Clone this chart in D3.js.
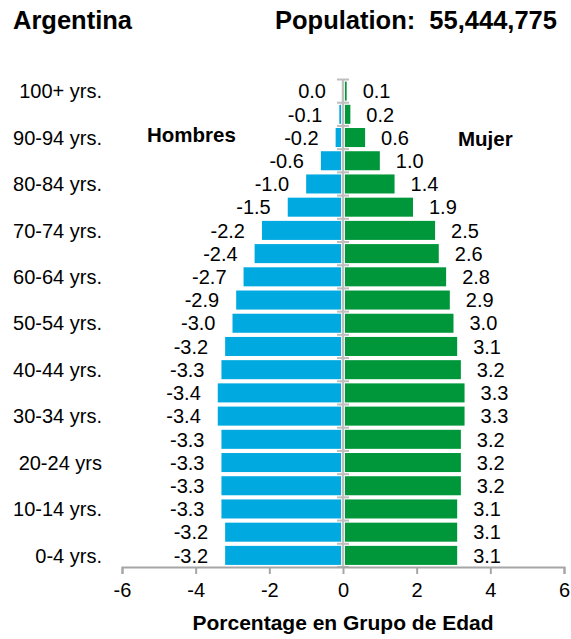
<!DOCTYPE html>
<html>
<head>
<meta charset="utf-8">
<script src="https://cdn.jsdelivr.net/npm/d3@7"></script>
<style>
  html, body { margin: 0; padding: 0; background: #fff; }
  svg { display: block; font-family: "Liberation Sans", Arial, sans-serif; }
</style>
</head>
<body>
<svg id="chart" width="571" height="639"></svg>
<script>
// Age groups, bottom to top
const ageGroups = ["0-4","5-9","10-14","15-19","20-24","25-29","30-34","35-39","40-44","45-49",
  "50-54","55-59","60-64","65-69","70-74","75-79","80-84","85-89","90-94","95-99","100+"];
// Tick labels shown on the y axis (every other group)
const yTickLabels = {
  "0-4": "0-4 yrs.", "10-14": "10-14 yrs.", "20-24": "20-24 yrs", "30-34": "30-34 yrs.",
  "40-44": "40-44 yrs.", "50-54": "50-54 yrs.", "60-64": "60-64 yrs.", "70-74": "70-74 yrs.",
  "80-84": "80-84 yrs.", "90-94": "90-94 yrs.", "100+": "100+ yrs."
};
const male = [-3.2,-3.2,-3.3,-3.3,-3.3,-3.3,-3.4,-3.4,-3.3,-3.2,-3.0,-2.9,-2.7,-2.4,-2.2,-1.5,-1.0,-0.6,-0.2,-0.1,0.0];
const female = [3.1,3.1,3.1,3.2,3.2,3.2,3.3,3.3,3.2,3.1,3.0,2.9,2.8,2.6,2.5,1.9,1.4,1.0,0.6,0.2,0.1];
const xTicks = [-6,-4,-2,0,2,4,6];

const svg = d3.select("#chart");
const blue = "#00a9e0", green = "#00973a";

const x = d3.scaleLinear().domain([-6, 6]).range([122, 564]);
const y = d3.scaleBand().domain(ageGroups).range([567, 79.5]).paddingInner(0.18).paddingOuter(0.09);
const yStep = d3.scaleBand().domain(ageGroups).range([567, 79.5]);

// Titles
svg.append("text").attr("x", 13).attr("y", 29).attr("font-size", 25.5).attr("font-weight", "bold")
  .text("Argentina");
svg.append("text").attr("x", 557).attr("y", 29).attr("font-size", 25.5).attr("font-weight", "bold")
  .attr("text-anchor", "end").attr("xml:space", "preserve").style("white-space", "pre")
  .text("Population:  55,444,775");

// Bars
const x0 = x(0);
svg.append("g").selectAll("rect").data(ageGroups).join("rect")
  .attr("x", (d, i) => x(male[i]))
  .attr("width", (d, i) => Math.max(0, x0 - 2 - x(male[i])))
  .attr("y", d => y(d)).attr("height", y.bandwidth())
  .attr("fill", blue);
svg.append("g").selectAll("rect").data(ageGroups).join("rect")
  .attr("x", x0 + 2)
  .attr("width", (d, i) => Math.max(0, x(female[i]) - x0 - 2))
  .attr("y", d => y(d)).attr("height", y.bandwidth())
  .attr("fill", green);

// Center axis with ticks at band boundaries
const cg = svg.append("g").attr("stroke", "#bfbfbf");
cg.append("line").attr("x1", x0).attr("x2", x0).attr("y1", 79.5).attr("y2", 567).attr("stroke-width", 2.5);
const bounds = ageGroups.map(d => yStep(d) + yStep.bandwidth()).concat([yStep(ageGroups[ageGroups.length - 1])]);
cg.selectAll("line.t").data(bounds).join("line").attr("class", "t")
  .attr("x1", x0 - 6).attr("x2", x0 + 6).attr("y1", d => d).attr("y2", d => d).attr("stroke-width", 2);

// Value labels
const fmt = v => (v < 0 ? "-" : "") + Math.abs(v).toFixed(1);
svg.append("g").selectAll("text").data(ageGroups).join("text")
  .attr("x", (d, i) => x(male[i]) - 17)
  .attr("y", d => y(d) + y.bandwidth() / 2).attr("dy", "0.36em")
  .attr("text-anchor", "end").attr("font-size", 20).attr("fill", "#000")
  .text((d, i) => fmt(male[i]));
svg.append("g").selectAll("text").data(ageGroups).join("text")
  .attr("x", (d, i) => x(female[i]) + 16)
  .attr("y", d => y(d) + y.bandwidth() / 2).attr("dy", "0.36em")
  .attr("text-anchor", "start").attr("font-size", 20).attr("fill", "#000")
  .text((d, i) => fmt(female[i]));

// Y labels
svg.append("g").selectAll("text").data(ageGroups.filter(d => yTickLabels[d])).join("text")
  .attr("x", 102).attr("y", d => y(d) + y.bandwidth() / 2).attr("dy", "0.36em")
  .attr("text-anchor", "end").attr("font-size", 20).text(d => yTickLabels[d]);

// X axis
const xAxis = d3.axisBottom(x).tickValues(xTicks).tickSize(7).tickPadding(9).tickFormat(d => String(d));
const gx = svg.append("g").attr("transform", "translate(0,567)").call(xAxis);
gx.select(".domain").attr("stroke", "#a6a6a6").attr("stroke-width", 2);
gx.selectAll(".tick line").attr("stroke", "#a6a6a6").attr("stroke-width", 2);
gx.selectAll(".tick text").attr("font-size", 20).attr("fill", "#000")
  .attr("font-family", "Liberation Sans, Arial, sans-serif");

// Axis title
svg.append("text").attr("x", 343).attr("y", 630).attr("text-anchor", "middle")
  .attr("font-size", 21).attr("font-weight", "bold").text("Porcentage en Grupo de Edad");

// Side labels
svg.append("text").attr("x", 147).attr("y", 142).attr("font-size", 20.5).attr("font-weight", "bold").text("Hombres");
svg.append("text").attr("x", 458).attr("y", 146).attr("font-size", 20.5).attr("font-weight", "bold").text("Mujer");
</script>
</body>
</html>
